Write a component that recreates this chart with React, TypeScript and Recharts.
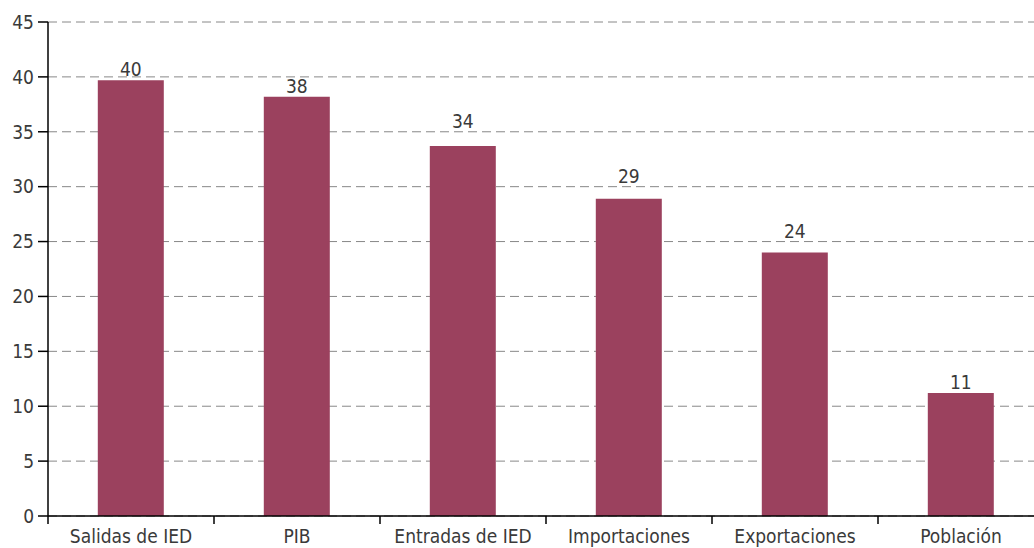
import React from 'react';
import { BarChart, Bar, XAxis, YAxis, CartesianGrid, LabelList } from 'recharts';

const categories = ['Salidas de IED', 'PIB', 'Entradas de IED', 'Importaciones', 'Exportaciones', 'Población'];
const values = [39.7, 38.2, 33.7, 28.9, 24.0, 11.2];
const yTicks = [0, 5, 10, 15, 20, 25, 30, 35, 40, 45];
const yStep = 5;

const data = categories.map((name, i) => ({ name, value: values[i] }));

const FONT = "'DejaVu Sans Condensed', 'DejaVu Sans', sans-serif";
const TEXT = '#3a3a3a';
const textStyle = { fill: TEXT, fontSize: 19, fontFamily: FONT, fontStretch: 'condensed' as const };

// category label plus a tick mark at the left edge of its band
const CategoryTick = (props: any) => {
  const { x, y, payload } = props;
  const half = payload.offset || 0;
  return (
    <g>
      <line x1={x - half} x2={x - half} y1={y - 6} y2={y + 2} stroke="#000" strokeWidth={1.5} />
      <text x={x} y={y + 21} textAnchor="middle" style={textStyle}>
        {payload.value}
      </text>
    </g>
  );
};

// value label above the bar, lifted over a grid line if it would cross one
const ValueLabel = (props: any) => {
  const { x, y, width, height, value } = props;
  const ppu = height / value;
  const next = Math.ceil(value / yStep) * yStep;
  const lineY = y - (next - value) * ppu;
  const textH = 15;
  let base = y - 4;
  if (lineY < base - 1 && lineY > base - textH + 2) base = lineY - 4;
  return (
    <text x={x + width / 2} y={base} textAnchor="middle" style={textStyle}>
      {Math.round(value)}
    </text>
  );
};

export default function App() {
  return (
    <div style={{ position: 'absolute', left: 0, top: 0, width: 1034, height: 548, overflow: 'hidden', background: '#fff' }}>
      <BarChart
        width={1044}
        height={548}
        data={data}
        margin={{ top: 22, right: 0, left: 0, bottom: 0 }}
        barCategoryGap="30%"
      >
        <CartesianGrid vertical={false} stroke="#888" strokeDasharray="9 5" />
        <XAxis
          dataKey="name"
          axisLine={{ stroke: '#000', strokeWidth: 1.5 }}
          tickLine={false}
          height={32}
          tick={<CategoryTick />}
          tickMargin={0}
          interval={0}
        />
        <YAxis
          domain={[0, 45]}
          ticks={yTicks}
          width={48}
          axisLine={{ stroke: '#000', strokeWidth: 1.5 }}
          tickLine={{ stroke: '#000', strokeWidth: 1.5 }}
          tickSize={10}
          tick={textStyle}
          tickMargin={4}
        />
        <Bar dataKey="value" fill="#9b415e" isAnimationActive={false}>
          <LabelList dataKey="value" content={<ValueLabel />} />
        </Bar>
      </BarChart>
    </div>
  );
}
